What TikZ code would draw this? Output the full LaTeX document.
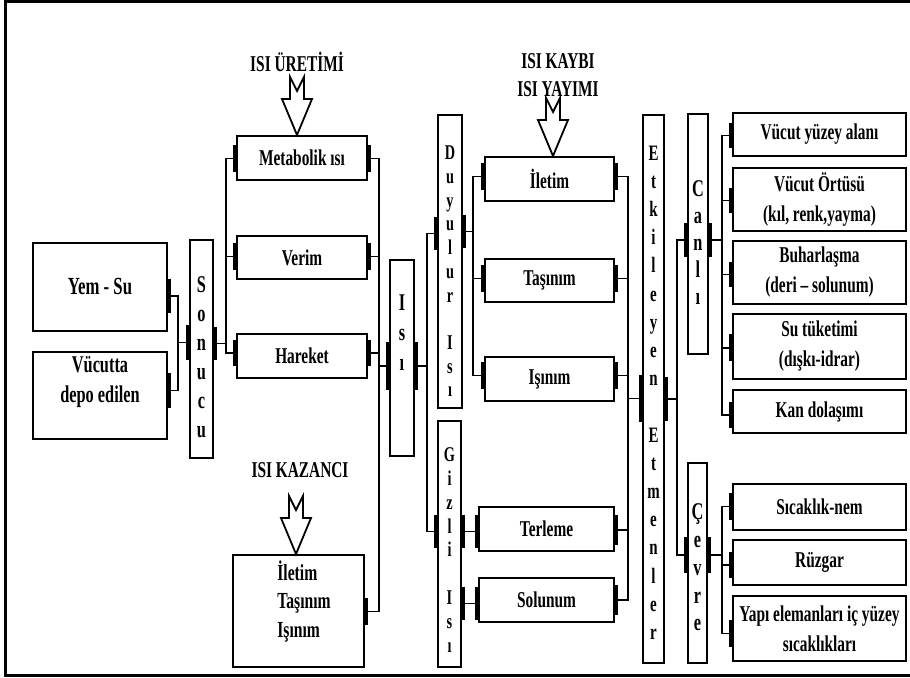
\documentclass[tikz,border=0pt]{standalone}
\usepackage{fontspec}
\newfontfamily\diafont[FakeStretch=0.68]{Liberation Serif}

\begin{document}
\begin{tikzpicture}[
    x=0.5pt, y=-0.5pt,
    txt/.style={font=\diafont\bfseries\fontsize{11.3}{15}\selectfont, align=center, inner sep=0pt},
    vtext/.style 2 args={txt, font=\diafont\bfseries\fontsize{#1}{#2}\selectfont},
    box/.style={txt, draw, line width=1pt, minimum width=65pt, minimum height=22pt},
    rbox/.style={box, minimum width=86.5pt},
    vbox/.style={draw, line width=0.8pt, inner sep=0pt},
    tab/.style={fill=black, inner sep=0pt, minimum width=2.5pt},
    link/.style={line width=0.7pt},
    heat arrow/.pic={\draw[line width=0.9pt, fill=white] (0,0) -- (-15,-36) -- (-7,-36) -- (-7,-58) -- (0,-44) -- (7,-58) -- (7,-36) -- (15,-36) -- cycle;}
]
    \useasboundingbox (0,0) rectangle (910,678);
    \draw[line width=1.5pt] (910,2) -- (5,2) -- (5,675) -- (910,675);

    \node[box, minimum width=67pt, minimum height=44pt, font=\diafont\bfseries\fontsize{12.3}{15}\selectfont] (yem) at (100,287) {Yem - Su};
    \node[box, minimum width=67pt, minimum height=43.5pt] (vuc) at (100,395.5) {};
    \node[txt, font=\diafont\bfseries\fontsize{12}{15}\selectfont] (vucText) at (100,382) {Vücutta\\depo edilen};

    \node[vbox, minimum width=11.5pt, minimum height=109pt] (son) at (201.5,349) {};
    \node[vtext={12}{14.5pt}] (sonText) at (201.5,357.5) {S\\o\\n\\u\\c\\u};

    \node[box] (met) at (302,158) {Metabolik ısı};
    \node[box, minimum height=21.5pt] (ver) at (302,257.5) {Verim};
    \node[box] (har) at (302,356) {Hareket};
    \node[box, minimum width=65.5pt, minimum height=56pt] (kaz) at (298.5,611) {};
    \node[txt, align=left, font=\diafont\bfseries\fontsize{11.5}{14.25}\selectfont] (kazText) at (304,601.5) {İletim\\Taşınım\\Işınım};

    \node[txt] (uret) at (297,62) {ISI ÜRETİMİ};
    \node[txt, font=\diafont\bfseries\fontsize{11.3}{14}\selectfont] (kayip) at (558,75) {ISI KAYBI\\ISI YAYIMI};
    \node[txt] (kazanc) at (300,470) {ISI KAZANCI};

    \node[vbox, minimum width=12pt, minimum height=98pt] (isi) at (402,358) {};
    \node[vtext={12}{15pt}] (isiText) at (402,333) {I\\s\\ı};

    \node[vbox, minimum width=12pt, minimum height=146.5pt] (duy) at (450,261.5) {};
    \node[vtext={10.5}{11.85pt}] (duyText) at (450,271.5) {D\\u\\y\\u\\l\\u\\r\\[11.85pt]I\\s\\ı};
    \node[vbox, minimum width=11.5pt, minimum height=123pt] (giz) at (449.5,544) {};
    \node[vtext={10.5}{11.9pt}] (gizText) at (449.5,550) {G\\i\\z\\l\\i\\[11.9pt]I\\s\\ı};

    \node[box, minimum width=64.5pt] (ile) at (549.5,179) {İletim};
    \node[box, minimum width=64.5pt, minimum height=21.5pt] (tas) at (549.5,280.5) {Taşınım};
    \node[box, minimum width=64.5pt] (isn) at (549.5,379) {Işınım};
    \node[box, minimum width=67.5pt] (ter) at (546.5,529) {Terleme};
    \node[box, minimum width=67.5pt] (sol) at (546.5,600) {Solunum};

    \node[vbox, minimum width=10.5pt, minimum height=274pt] (etk) at (653.5,389) {};
    \node[vtext={11}{14.1pt}] (etkText) at (653.5,392.5) {E\\t\\k\\i\\l\\e\\y\\e\\n\\[14.1pt]E\\t\\m\\e\\n\\l\\e\\r};

    \node[vbox, minimum width=10pt, minimum height=120pt] (can) at (698,234) {};
    \node[vtext={12}{13.6pt}] (canText) at (698,242.5) {C\\a\\n\\l\\ı};
    \node[vbox, minimum width=9.5pt, minimum height=100pt] (cev) at (697.5,563) {};
    \node[vtext={12}{13.9pt}] (cevText) at (697.5,567.5) {Ç\\e\\v\\r\\e};

    \node[rbox, minimum height=21.5pt] (r1) at (819.5,134.5) {Vücut yüzey alanı};
    \node[rbox, minimum height=31.5pt] (r2) at (819.5,199.5) {Vücut Örtüsü\\(kıl, renk,yayma)};
    \node[rbox, minimum height=31.5pt] (r3) at (819.5,272.5) {Buharlaşma\\(deri – solunum)};
    \node[rbox, minimum height=32.5pt] (r4) at (819.5,346.5) {Su tüketimi\\(dışkı-idrar)};
    \node[rbox, minimum height=21.5pt] (r5) at (819.5,411.5) {Kan dolaşımı};
    \node[rbox, minimum height=23pt] (r6) at (819.5,507) {Sıcaklık-nem};
    \node[rbox, minimum height=22.5pt] (r7) at (819.5,562.5) {Rüzgar};
    \node[rbox, minimum height=32.5pt] (r8) at (819.5,628.5) {Yapı elemanları iç yüzey\\sıcaklıkları};

    \foreach \n/\x/\y/\h in {yemT/168.5/296/17pt, vucT/168.5/390.5/17.5pt,
        sonL/188.5/342.5/17.5pt, sonR/214.5/343.5/16.5pt,
        metL/235.5/158.5/13.5pt, metR/368.5/158.5/13.5pt,
        verL/235.5/256.5/13.5pt, verR/368.5/256.5/13.5pt,
        harL/235.5/353/13pt, harR/368.5/353/13pt, kazT/365.5/611.5/13.5pt,
        isiL/388.5/366/24pt, isiR/415.5/366/24pt,
        duyL/436.5/233.5/16.5pt, duyR/463.5/231.5/16.5pt,
        gizL/436.5/531.5/16.5pt, gizA/462.5/531.5/16.5pt, gizB/462.5/603.5/16.5pt,
        ileL/483.5/176.5/13.5pt, ileR/615.5/176.5/13.5pt,
        tasL/483.5/278.5/13.5pt, tasR/615.5/278.5/13.5pt,
        isnL/483.5/375.5/13.5pt, isnR/615.5/375.5/13.5pt,
        terL/477.5/531.5/16.5pt, terR/615.5/530/15pt,
        solL/477.5/603.5/16.5pt, solR/615.5/600/15pt,
        etkL/641.5/398.5/23.5pt, etkR/665.5/399/22pt,
        canL/686.5/240/17pt, canR/709.5/240/17pt,
        cevL/686.5/555/18pt, cevR/708.5/555/18pt,
        r1T/731.5/135.5/12.5pt, r2T/731.5/200.5/12.5pt, r3T/731.5/274.5/12.5pt,
        r4T/731.5/348/13.5pt, r5T/731.5/415/13pt, r6T/731.5/506.5/13.5pt,
        r7T/731.5/565/13pt, r8T/731.5/633.5/13.5pt}
        \node[tab, minimum height=\h] (\n) at (\x,\y) {};

    \pic at ([xshift=-2.5pt]met.north) {heat arrow};
    \pic at ([xshift=1.75pt]ile.north) {heat arrow};
    \pic at ([xshift=-1.25pt]kaz.north) {heat arrow};

    \coordinate (busA) at (178,0);
    \coordinate (busB) at (226,0);
    \coordinate (busC) at (379,0);
    \coordinate (busD) at (427,0);
    \coordinate (busE) at (473,0);
    \coordinate (busF) at (628,0);
    \coordinate (busG) at (677,0);
    \coordinate (busH) at (722,0);

    \draw[link] (yemT.east) -| (busA |- sonL) -- (sonL.west);
    \draw[link] (vucT.east) -| (busA |- sonL);
    \draw[link] (metL.west) -| (busB |- harL) -- (harL.west);
    \draw[link] (verL.west) -- (verL.west -| busB);
    \draw[link] (sonR.east) -- (sonR.east -| busB);
    \draw[link] (metR.east) -| (busC |- kazT) -- (kazT.east);
    \draw[link] (verR.east) -- (verR.east -| busC);
    \draw[link] (harR.east) -- (harR.east -| busC);
    \draw[link] (isiL.west) -- (isiL.west -| busC);
    \draw[link] (duyL.west) -| (busD |- gizL) -- (gizL.west);
    \draw[link] (isiR.east) -- (isiR.east -| busD);
    \draw[link] (ileL.west) -| (busE |- isnL) -- (isnL.west);
    \draw[link] (tasL.west) -- (tasL.west -| busE);
    \draw[link] (duyR.east) -- (duyR.east -| busE);
    \draw[link] (gizA.east) -- (terL.west);
    \draw[link] (gizB.east) -- (solL.west);
    \draw[link] (ileR.east) -| (busF |- solR) -- (solR.east);
    \foreach \n in {tasR, isnR, terR}
        \draw[link] (\n.east) -- (\n.east -| busF);
    \draw[link] (etkL.west) -- (etkL.west -| busF);
    \draw[link] (canL.west) -| (busG |- cevL) -- (cevL.west);
    \draw[link] (etkR.east) -- (etkR.east -| busG);
    \draw[link] (r1T.west) -| (busH |- r5T) -- (r5T.west);
    \foreach \n in {r2T, r3T, r4T}
        \draw[link] (\n.west) -- (\n.west -| busH);
    \draw[link] (canR.east) -- (canR.east -| busH);
    \draw[link] (r6T.west) -| (busH |- r8T) -- (r8T.west);
    \draw[link] (r7T.west) -- (r7T.west -| busH);
    \draw[link] (cevR.east) -- (cevR.east -| busH);
\end{tikzpicture}
\end{document}
